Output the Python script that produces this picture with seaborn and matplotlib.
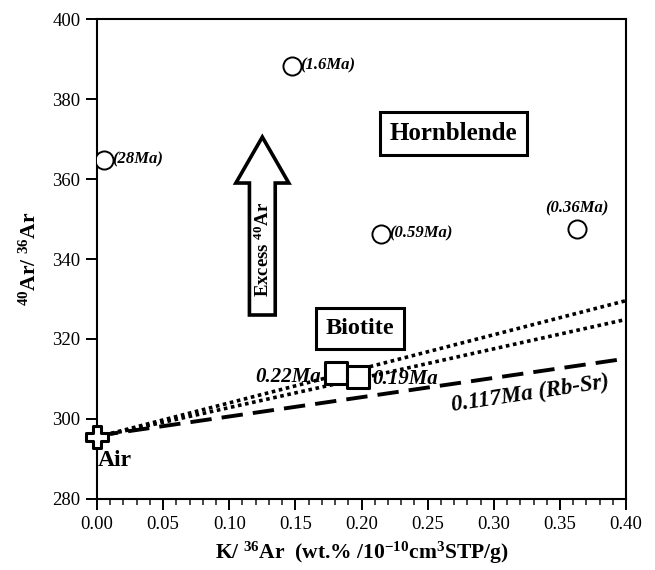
import matplotlib
matplotlib.use("Agg")
import matplotlib.pyplot as plt
import seaborn as sns
import pandas as pd
import numpy as np
from matplotlib.ticker import MultipleLocator

# ---- data ----
hbl_x = [0.0053, 0.1474, 0.2145, 0.363]
hbl_y = [364.8, 388.3, 346.3, 347.5]
hbl_labels = ["(28Ma)", "(1.6Ma)", "(0.59Ma)", "(0.36Ma)"]

bt_x = [0.181, 0.197]
bt_y = [311.4, 310.4]
bt_labels = ["0.22Ma", "0.19Ma"]

air_x = [0.0]
air_y = [295.5]

iso_x = [0.0, 0.40]
iso_upper = [295.5, 329.6]
iso_lower = [295.5, 324.9]
iso_rbsr = [295.8, 315.1]

xticks = [0.00, 0.05, 0.10, 0.15, 0.20, 0.25, 0.30, 0.35, 0.40]
yticks = [280, 300, 320, 340, 360, 380, 400]

sns.set_theme(style="white")
plt.rcParams['font.family'] = ['Liberation Serif', 'DejaVu Serif']
plt.rcParams['mathtext.default'] = 'regular'
plt.rcParams['text.color'] = 'black'
plt.rcParams['axes.labelcolor'] = 'black'

fig = plt.figure(figsize=(6.55, 5.70), dpi=100)
ax = fig.add_axes([0.148, 0.1246, 0.808, 0.842])

# isochron lines
lines_df = pd.DataFrame({"x": iso_x, "up": iso_upper, "lo": iso_lower, "rb": iso_rbsr})
sns.lineplot(data=lines_df, x="x", y="up", ax=ax, color="black", lw=2.6,
             linestyle=(0, (1, 1.0)), zorder=2)
sns.lineplot(data=lines_df, x="x", y="lo", ax=ax, color="black", lw=2.6,
             linestyle=(0, (1, 1.0)), zorder=2)
sns.lineplot(data=lines_df, x="x", y="rb", ax=ax, color="black", lw=2.8,
             linestyle=(0, (5.5, 2.6)), zorder=2)

# hornblende circles
sns.scatterplot(x=hbl_x, y=hbl_y, ax=ax, marker="o", s=170, facecolor="white",
                edgecolor="black", linewidth=1.4, zorder=4)
# biotite squares
sns.scatterplot(x=bt_x, y=bt_y, ax=ax, marker="s", s=260, facecolor="white",
                edgecolor="black", linewidth=2.2, zorder=4)
# air
sns.scatterplot(x=air_x, y=air_y, ax=ax, marker="P", s=230, facecolor="white",
                edgecolor="black", linewidth=2.2, zorder=5, clip_on=False)

# labels for hornblende
lab_font = dict(fontsize=12, fontstyle="italic", fontweight="bold")
ax.text(hbl_x[0] + 0.006, hbl_y[0], hbl_labels[0], ha="left", va="center", **lab_font)
ax.text(hbl_x[1] + 0.006, hbl_y[1], hbl_labels[1], ha="left", va="center", **lab_font)
ax.text(hbl_x[2] + 0.006, hbl_y[2], hbl_labels[2], ha="left", va="center", **lab_font)
ax.text(hbl_x[3], hbl_y[3] + 3.2, hbl_labels[3], ha="center", va="bottom", **lab_font)

# biotite labels
bt_font = dict(fontsize=15, fontstyle="italic", fontweight="bold")
ax.text(bt_x[0] - 0.012, bt_y[0] - 0.8, bt_labels[0], ha="right", va="center", **bt_font)
ax.text(bt_x[1] + 0.011, bt_y[1] - 0.3, bt_labels[1], ha="left", va="center", **bt_font)
ax.text(0.268, 303.4, "0.117Ma (Rb-Sr)", ha="left", va="center", rotation=8.5,
        rotation_mode="anchor", fontsize=16.5, fontstyle="italic", fontweight="bold")

ax.text(0.0005, 289.6, "Air", ha="left", va="center", fontsize=17, fontweight="bold")

# boxed labels
box = dict(boxstyle="square,pad=0.4", facecolor="white", edgecolor="black", lw=2.2)
ax.text(0.2695, 371.3, "Hornblende", ha="center", va="center", fontsize=18,
        fontweight="bold", bbox=box, zorder=6)
ax.text(0.1985, 322.6, "Biotite", ha="center", va="center", fontsize=17.5,
        fontweight="bold", bbox=box, zorder=6)

# Excess arrow
ax.arrow(0.125, 326.0, 0, 33.0, width=0.0195, head_width=0.04, head_length=11.5,
         length_includes_head=False, facecolor="white", edgecolor="black", lw=2.6, zorder=3)
ax.text(0.1255, 342.5, r"Excess $^{40}$Ar", rotation=90, ha="center", va="center",
        fontsize=13.5, fontweight="bold", zorder=4)

# axes
ax.set_xlim(0, 0.40)
ax.set_ylim(280, 400)
ax.set_xticks(xticks)
ax.set_xticklabels([f"{t:.2f}" for t in xticks])
ax.set_yticks(yticks)
ax.set_yticklabels([str(t) for t in yticks])
ax.xaxis.set_minor_locator(MultipleLocator(0.01))
ax.tick_params(axis="both", which="major", direction="out", length=8, width=1.4,
               labelsize=13.5, colors="black", pad=4)
ax.tick_params(axis="x", which="minor", direction="out", length=4, width=1.2,
               bottom=True)
ax.tick_params(top=False, right=False)
ax.tick_params(axis="x", which="both", bottom=True)
ax.tick_params(axis="y", which="both", left=True)
for sp in ax.spines.values():
    sp.set_color("black")
    sp.set_linewidth(1.5)
ax.grid(False)

ax.set_xlabel(r"K/ $^{36}$Ar  (wt.% /10$^{-10}$cm$^{3}$STP/g)", fontsize=15.5,
              fontweight="bold", labelpad=5)
ax.set_ylabel(r"$^{40}$Ar/ $^{36}$Ar", fontsize=15.5, fontweight="bold", labelpad=8)

fig.savefig("out.png", dpi=100)
